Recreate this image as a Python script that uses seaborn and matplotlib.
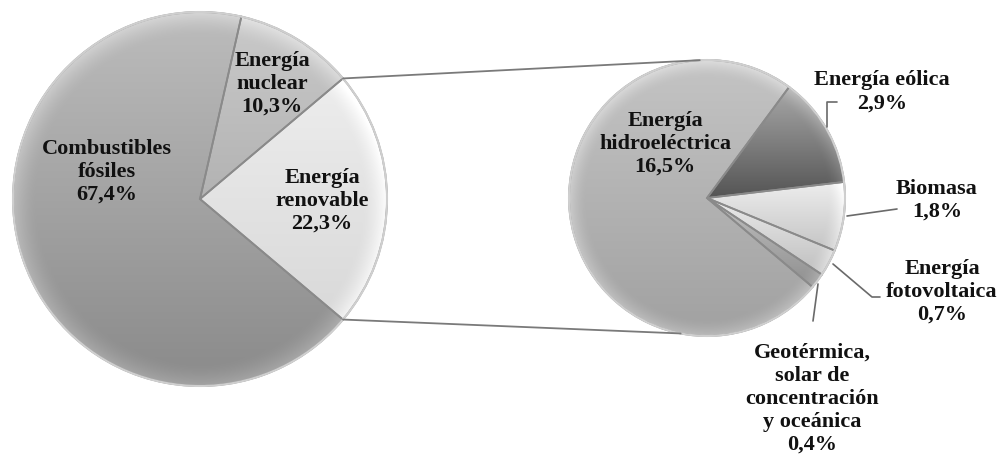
import numpy as np
import matplotlib
matplotlib.use("Agg")
import matplotlib.pyplot as plt
import seaborn as sns

sns.set_theme(style="white")
plt.rcParams["font.family"] = ["Liberation Serif", "DejaVu Serif"]

# Energy mix (main pie) and breakdown of the renewable share (secondary pie)
main_labels = ["Energía\nnuclear", "Energía\nrenovable", "Combustibles\nfósiles"]
main_values = [10.3, 22.3, 67.4]
sub_labels = ["Energía eólica", "Biomasa", "Energía\nfotovoltaica",
              "Geotérmica,\nsolar de\nconcentración\ny oceánica",
              "Energía\nhidroeléctrica"]
sub_values = [2.9, 1.8, 0.7, 0.4, 16.5]

# grey gradient (top, bottom) of each slice, 0-1
main_grey = [(0.79, 0.70), (0.93, 0.85), (0.74, 0.54)]
sub_grey = [(0.66, 0.33), (0.93, 0.77), (0.92, 0.75), (0.76, 0.56), (0.77, 0.63)]

W, H = 1005, 456
fig = plt.figure(figsize=(W / 100, H / 100), dpi=100)
ax = fig.add_axes([0, 0, 1, 1])


def P(x, y):
    """pixel position (top-left origin) -> data coordinates"""
    return x, H - y


def pct(v):
    return f"{v:.1f}".replace(".", ",") + "%"


def shaded_pie(values, greys, center, radius, startangle):
    wedges, _ = ax.pie(values, startangle=startangle, counterclock=False,
                       center=center, radius=radius,
                       wedgeprops=dict(edgecolor="#8a8a8a", linewidth=1.3))
    cx, cy = center
    n = 400
    xs = np.linspace(cx - radius, cx + radius, n)
    ys = np.linspace(cy - radius, cy + radius, n)
    X, Y = np.meshgrid(xs, ys)
    rr = np.hypot(X - cx, Y - cy) / radius
    rim = np.clip((rr - 0.88) / 0.12, 0, 1) ** 1.5
    for w, (top, bot) in zip(wedges, greys):
        vy = w.get_path().vertices[:, 1]
        y0, y1 = vy.min(), vy.max()
        t = np.clip((Y - y0) / (y1 - y0), 0, 1)
        val = bot + (top - bot) * t + 0.10 * rim
        img = np.clip(np.dstack([val, val, val]), 0, 1)
        im = ax.imshow(img, origin="lower", aspect="auto",
                       extent=(cx - radius, cx + radius, cy - radius, cy + radius),
                       zorder=1, interpolation="bilinear")
        im.set_clip_path(w)
        w.set_facecolor("none")
        w.set_zorder(2)
    ax.add_patch(plt.Circle(center, radius, fill=False, edgecolor="#cfcfcf",
                            linewidth=1.5, zorder=3))
    return wedges


# main pie: renewable slice centred on the right-hand side
main_total = sum(main_values)
main_start = 360 * (main_values[0] + main_values[1] / 2) / main_total
c1, r1 = P(200, 200), 187
w_main = shaded_pie(main_values, main_grey, c1, r1, main_start)

# secondary pie
c2, r2 = P(707, 199), 138
w_sub = shaded_pie(sub_values, sub_grey, c2, r2, 53.5)

# connector lines between the renewable slice and the secondary pie
ren = w_main[1]
for ang_main, ang_sub in [(ren.theta2, 93), (ren.theta1, 259)]:
    x0 = c1[0] + r1 * np.cos(np.radians(ang_main))
    y0 = c1[1] + r1 * np.sin(np.radians(ang_main))
    x1 = c2[0] + r2 * np.cos(np.radians(ang_sub))
    y1 = c2[1] + r2 * np.sin(np.radians(ang_sub))
    ax.plot([x0, x1], [y0, y1], color="#7a7a7a", lw=1.3, zorder=4)

txt = dict(ha="center", va="center", fontsize=16, fontweight="bold",
           color="#111111", multialignment="center", zorder=5)

main_pos = [(272, 84), (322, 201), (107, 172)]
for lab, v, (x, y) in zip(main_labels, main_values, main_pos):
    ax.text(*P(x, y), f"{lab}\n{pct(v)}", **txt)

sub_pos = [(882, 92), (937, 200), (942, 292), (812, 399), (665, 144)]
for lab, v, (x, y) in zip(sub_labels, sub_values, sub_pos):
    ax.text(*P(x, y), f"{lab}\n{pct(v)}", **txt)

# leader lines for the small slices
leaders = [
    [(837, 103), (827, 103), (827, 128)],
    [(847, 217), (897, 210)],
    [(833, 265), (872, 298), (880, 298)],
    [(818, 285), (813, 322)],
]
for pts in leaders:
    xs, ys = zip(*[P(x, y) for x, y in pts])
    ax.plot(xs, ys, color="#6a6a6a", lw=1.2, zorder=4)

ax.set_xlim(0, W)
ax.set_ylim(0, H)
ax.set_aspect("equal")
ax.axis("off")

fig.savefig("out.png", dpi=100, facecolor="white")
